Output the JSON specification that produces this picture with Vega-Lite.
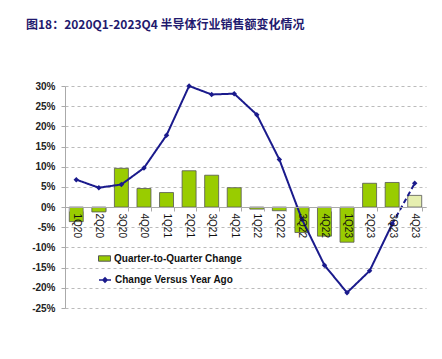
{
  "$schema": "https://vega.github.io/schema/vega-lite/v6.json",
  "width": 361,
  "height": 222,
  "autosize": {"type": "none"},
  "padding": {"left": 65, "top": 86, "right": 16, "bottom": 51},
  "background": "white",
  "title": {
    "text": "图18：2020Q1-2023Q4 半导体行业销售额变化情况",
    "anchor": "start",
    "frame": "group",
    "dx": -39,
    "offset": 49,
    "font": "Noto Sans CJK SC",
    "fontSize": 12,
    "fontWeight": "bold",
    "color": "#1f1a6e"
  },
  "config": {
    "view": {"stroke": null},
    "font": "Liberation Sans"
  },
  "datasets": {
    "bars": [
      {"q": "1Q20", "qoq": -3.6, "type": "A", "series": "Quarter-to-Quarter Change"},
      {"q": "2Q20", "qoq": -1.2, "type": "A", "series": "Quarter-to-Quarter Change"},
      {"q": "3Q20", "qoq": 9.6, "type": "A", "series": "Quarter-to-Quarter Change"},
      {"q": "4Q20", "qoq": 4.6, "type": "A", "series": "Quarter-to-Quarter Change"},
      {"q": "1Q21", "qoq": 3.6, "type": "A", "series": "Quarter-to-Quarter Change"},
      {"q": "2Q21", "qoq": 9.0, "type": "A", "series": "Quarter-to-Quarter Change"},
      {"q": "3Q21", "qoq": 7.9, "type": "A", "series": "Quarter-to-Quarter Change"},
      {"q": "4Q21", "qoq": 4.8, "type": "A", "series": "Quarter-to-Quarter Change"},
      {"q": "1Q22", "qoq": -0.5, "type": "A", "series": "Quarter-to-Quarter Change"},
      {"q": "2Q22", "qoq": -0.9, "type": "A", "series": "Quarter-to-Quarter Change"},
      {"q": "3Q22", "qoq": -6.3, "type": "A", "series": "Quarter-to-Quarter Change"},
      {"q": "4Q22", "qoq": -7.2, "type": "A", "series": "Quarter-to-Quarter Change"},
      {"q": "1Q23", "qoq": -8.7, "type": "A", "series": "Quarter-to-Quarter Change"},
      {"q": "2Q23", "qoq": 5.9, "type": "A", "series": "Quarter-to-Quarter Change"},
      {"q": "3Q23", "qoq": 6.1, "type": "A", "series": "Quarter-to-Quarter Change"},
      {"q": "4Q23", "qoq": 2.9, "type": "F", "series": "Quarter-to-Quarter Change"}
    ],
    "yoy": [
      {"q": "1Q20", "yoy": 6.8, "seg": "a", "series": "Change Versus Year Ago"},
      {"q": "2Q20", "yoy": 4.8, "seg": "a", "series": "Change Versus Year Ago"},
      {"q": "3Q20", "yoy": 5.6, "seg": "a", "series": "Change Versus Year Ago"},
      {"q": "4Q20", "yoy": 9.7, "seg": "a", "series": "Change Versus Year Ago"},
      {"q": "1Q21", "yoy": 17.8, "seg": "a", "series": "Change Versus Year Ago"},
      {"q": "2Q21", "yoy": 30.0, "seg": "a", "series": "Change Versus Year Ago"},
      {"q": "3Q21", "yoy": 27.9, "seg": "a", "series": "Change Versus Year Ago"},
      {"q": "4Q21", "yoy": 28.1, "seg": "a", "series": "Change Versus Year Ago"},
      {"q": "1Q22", "yoy": 22.9, "seg": "a", "series": "Change Versus Year Ago"},
      {"q": "2Q22", "yoy": 11.8, "seg": "a", "series": "Change Versus Year Ago"},
      {"q": "3Q22", "yoy": -3.0, "seg": "a", "series": "Change Versus Year Ago"},
      {"q": "4Q22", "yoy": -14.4, "seg": "a", "series": "Change Versus Year Ago"},
      {"q": "1Q23", "yoy": -21.2, "seg": "a", "series": "Change Versus Year Ago"},
      {"q": "2Q23", "yoy": -15.8, "seg": "a", "series": "Change Versus Year Ago"},
      {"q": "3Q23", "yoy": -4.2, "seg": "a", "series": "Change Versus Year Ago"},
      {"q": "3Q23", "yoy": -4.2, "seg": "b", "series": "Change Versus Year Ago"},
      {"q": "4Q23", "yoy": 5.9, "seg": "b", "series": "Change Versus Year Ago"}
    ]
  },
  "layer": [
    {
      "data": {"name": "bars"},
      "mark": {"type": "bar", "stroke": "#555555", "strokeWidth": 0.8},
      "encoding": {
        "x": {
          "field": "q",
          "type": "nominal",
          "sort": ["1Q20","2Q20","3Q20","4Q20","1Q21","2Q21","3Q21","4Q21","1Q22","2Q22","3Q22","4Q22","1Q23","2Q23","3Q23","4Q23"],
          "scale": {"paddingInner": 0.38, "paddingOuter": 0.19},
          "axis": {
            "orient": "bottom",
            "offset": -101,
            "title": null,
            "tickBand": "extent",
            "domainColor": "#aaaaaa",
            "tickColor": "#aaaaaa",
            "tickSize": 4,
            "labelAngle": 90,
            "labelAlign": "left",
            "labelBaseline": "middle",
            "labelPadding": 2,
            "labelFontSize": 10,
            "labelColor": "#111111",
            "grid": false,
            "zindex": 1
          }
        },
        "y": {
          "field": "qoq",
          "type": "quantitative",
          "scale": {"domain": [-25, 30], "nice": false},
          "axis": {
            "values": [-25, -20, -15, -10, -5, 0, 5, 10, 15, 20, 25, 30],
            "tickCount": 12,
            "labelExpr": "datum.value + '%'",
            "labelOverlap": false,
            "labelFontWeight": "bold",
            "labelFontSize": 10,
            "labelColor": "#222222",
            "grid": true,
            "gridDash": [3, 3],
            "gridColor": "#bbbbbb",
            "domainColor": "#aaaaaa",
            "tickColor": "#aaaaaa",
            "tickSize": 4,
            "labelPadding": 6,
            "title": null
          }
        },
        "fill": {
          "field": "series",
          "type": "nominal",
          "scale": {"domain": ["Quarter-to-Quarter Change"], "range": ["#99cc00"]},
          "condition": {"test": "datum.type === 'F'", "value": "#e6efb0"},
          "legend": {
            "orient": "none",
            "legendX": 33,
            "legendY": 166,
            "title": null,
            "labelFontWeight": "bold",
            "labelFontSize": 10,
            "labelColor": "#111111",
            "symbolType": "M-1,-0.45L1,-0.45L1,0.45L-1,0.45Z",
            "symbolSize": 144,
            "symbolStrokeColor": "#555555",
            "symbolStrokeWidth": 1,
            "labelOffset": 3
          }
        }
      }
    },
    {
      "data": {"name": "yoy"},
      "mark": {"type": "line", "strokeWidth": 2},
      "encoding": {
        "x": {"field": "q", "type": "nominal", "sort": ["1Q20","2Q20","3Q20","4Q20","1Q21","2Q21","3Q21","4Q21","1Q22","2Q22","3Q22","4Q22","1Q23","2Q23","3Q23","4Q23"]},
        "y": {"field": "yoy", "type": "quantitative"},
        "stroke": {
          "field": "series",
          "type": "nominal",
          "scale": {"domain": ["Change Versus Year Ago"], "range": ["#1a1a8c"]},
          "legend": {
            "orient": "none",
            "legendX": 33,
            "legendY": 187,
            "title": null,
            "labelFontWeight": "bold",
            "labelFontSize": 10,
            "labelColor": "#111111",
            "symbolType": "M-1,0L1,0M0,-0.35L0.35,0L0,0.35L-0.35,0Z",
            "symbolSize": 144,
            "symbolFillColor": "#1a1a8c",
            "symbolStrokeWidth": 1.5,
            "labelOffset": 3
          }
        },
        "strokeDash": {"field": "seg", "type": "nominal", "scale": {"domain": ["a", "b"], "range": [[1, 0], [5, 3]]}, "legend": null}
      }
    },
    {
      "data": {"name": "yoy"},
      "mark": {"type": "point", "filled": true, "shape": "diamond", "size": 30, "color": "#1a1a8c", "opacity": 1},
      "encoding": {
        "x": {"field": "q", "type": "nominal", "sort": ["1Q20","2Q20","3Q20","4Q20","1Q21","2Q21","3Q21","4Q21","1Q22","2Q22","3Q22","4Q22","1Q23","2Q23","3Q23","4Q23"]},
        "y": {"field": "yoy", "type": "quantitative"}
      }
    }
  ]
}
